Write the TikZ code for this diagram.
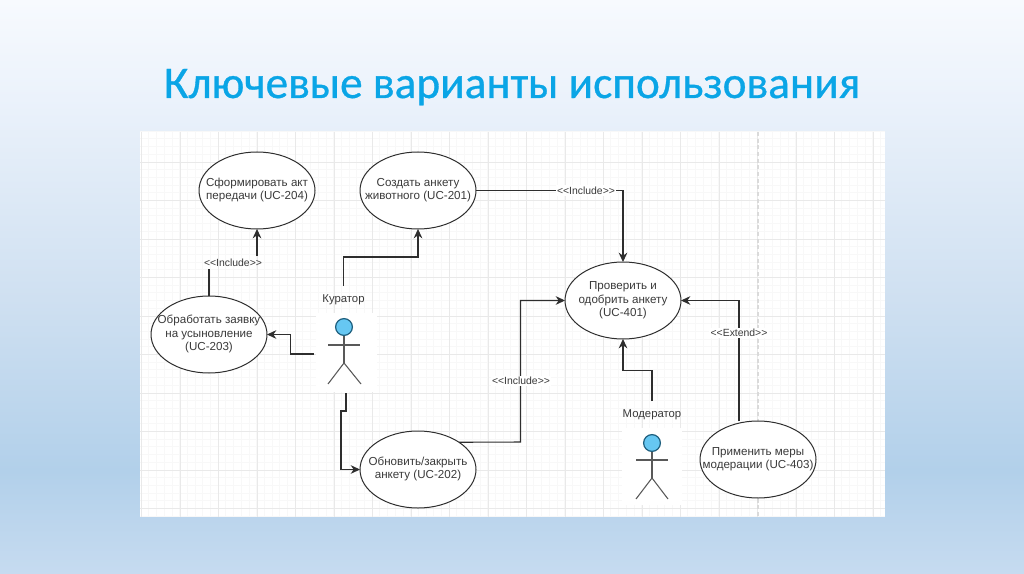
\documentclass[tikz,border=0pt]{standalone}
\usepackage{fontspec}
\setmainfont{Liberation Sans}
\newfontfamily\titlefont[FakeBold=0.7]{Carlito}
\usetikzlibrary{shapes.geometric,arrows.meta}
\definecolor{titleblue}{HTML}{0AA5E6}
\definecolor{inkc}{HTML}{2E2E2E}
\definecolor{lblc}{HTML}{3A3A3A}
\definecolor{gridminor}{HTML}{F8F8F8}
\definecolor{gridmajor}{HTML}{E9E9E9}
\definecolor{headc}{HTML}{66C7F2}
\definecolor{headline}{HTML}{1E5F7E}
\definecolor{dashc}{HTML}{DADADA}
\definecolor{bgA}{HTML}{C6DBF0}
\definecolor{bgB}{HTML}{B2D0EA}
\definecolor{bgC}{HTML}{CFE0F1}
\definecolor{bgD}{HTML}{EBF2FB}
\definecolor{bgE}{HTML}{F7FAFE}
\pgfdeclareverticalshading{slidebg}{100bp}{
  color(0bp)=(bgA);color(25bp)=(bgA);color(34bp)=(bgB);color(49bp)=(bgC);color(66.5bp)=(bgD);color(75bp)=(bgE);color(100bp)=(bgE)}
\newcommand\uct[1]{\makebox[0pt]{\begin{tabular}{@{}c@{}}#1\end{tabular}}}
\tikzset{
  uc/.style={draw=inkc,line width=.75pt,fill=white,ellipse,inner sep=0pt,outer sep=0pt,
    minimum width=87pt,minimum height=57.75pt,text=lblc,font=\fontsize{8.7}{10}\selectfont},
  conn/.style={draw=inkc,line width=.8pt,-{Stealth[length=7pt,width=6.5pt]}},
  plainline/.style={draw=inkc,line width=.8pt},
  tag/.style={fill=white,inner sep=1pt,text=lblc,font=\fontsize{7.8}{9}\selectfont},
  actorname/.style={text=lblc,inner sep=0pt,font=\fontsize{8.5}{10}\selectfont},
  limb/.style={draw=black!65,line width=.8pt},
  head/.style={circle,draw=headline,line width=.9pt,fill=headc,minimum size=12.6pt,inner sep=0pt},
}
\begin{document}
\begin{tikzpicture}[x=.75pt,y=-.75pt]
\useasboundingbox (0,0) rectangle (1024,574);
\shade[shading=slidebg] (0,0) rectangle (1024,574);
\node[text=titleblue,anchor=base,inner sep=0pt,font=\titlefont\fontsize{34}{40}\selectfont] (title) at (512,98) {Ключевые варианты использования};
% panel
\fill[white] (140,132) rectangle (885,517);
\begin{scope}
\clip (140,132) rectangle (885,517);
\foreach \i in {0,...,97} \draw[gridminor,line width=.4pt] ({141+\i*7.7},132) -- ({141+\i*7.7},517);
\foreach \i in {0,...,50} \draw[gridminor,line width=.4pt] (140,{131+\i*7.7}) -- (885,{131+\i*7.7});
\foreach \i in {0,...,19} \draw[gridmajor,line width=.7pt] ({141.5+\i*38.5},132) -- ({141.5+\i*38.5},517);
\foreach \i in {0,...,10} \draw[gridmajor,line width=.7pt] (140,{123.5+\i*38.5}) -- (885,{123.5+\i*38.5});
\end{scope}
\draw[dashc,line width=.8pt,dash pattern=on 3pt off 2pt] (758,132) -- (758,517);
% actor backgrounds
\fill[white] (316,313) rectangle (377,392);
\fill[white] (622,428) rectangle (682,505);
% use cases
\node[uc] (u204) at (257,190.5) {\uct{Сформировать акт\\передачи (UC-204)}};
\node[uc] (u201) at (418,190.5) {\uct{Создать анкету\\животного (UC-201)}};
\node[uc] (u203) at (209,334.5) {\uct{Обработать заявку\\на усыновление\\(UC-203)}};
\node[uc] (u202) at (418,469.5) {\uct{Обновить/закрыть\\анкету (UC-202)}};
\node[uc] (u401) at (623,300.5) {\uct{Проверить и\\одобрить анкету\\(UC-401)}};
\node[uc] (u403) at (758,459.5) {\uct{Применить меры\\модерации (UC-403)}};
% actors
\node[actorname] (kur) at (343.5,300) {Куратор};
\node[actorname] (mod) at (652,415) {Модератор};
\node[head] (kh) at (344,327) {};
\coordinate (kn) at (344,363);
\draw[limb] (kh) -- (kn);
\draw[limb] (328,345) -- (360,345);
\draw[limb] (328,384) -- (kn) -- (361,384);
\node[head] (mh) at (652,443) {};
\coordinate (mn) at (652,478);
\draw[limb] (mh) -- (mn);
\draw[limb] (636,460) -- (668,460);
\draw[limb] (636,499) -- (mn) -- (668,499);
% connector free ends
\coordinate (kTop) at (343.5,286);
\coordinate (kLeft) at (314,354);
\coordinate (kBot) at (346,393);
\coordinate (mTop) at (652,401);
% connectors
\draw[plainline] (u203.north) -- (209,269);
\node[tag,fill=none] (inc1) at (233,262.5) {<{}<Include>{}>};
\draw[conn] (257,256) -- (u204.south);
\draw[conn] (kTop) -- (343.5,257) -- (418,257) -- (u201.south);
\draw[conn] (u201.east) -- (623,190.5) -- (u401.north);
\node[tag] (inc2) at (586,190.5) {<{}<Include>{}>};
\draw[conn] (kLeft) -- (290.5,354) -- (290.5,334.5) -- (u203.east);
\draw[conn] (kBot) -- (346,411) -- (341,411) -- (341,469.5) -- (u202.west);
\draw[conn] (u202.north east) -- (520.5,442) -- (520.5,300.5) -- (u401.west);
\node[tag] (inc3) at (521,381) {<{}<Include>{}>};
\draw[conn] (mTop) -- (652,370.5) -- (623,370.5) -- (u401.south);
\draw[conn] (739,421.4) -- (739,300.5) -- (u401.east);
\node[tag] (ext) at (739,333) {<{}<Extend>{}>};
\end{tikzpicture}
\end{document}
